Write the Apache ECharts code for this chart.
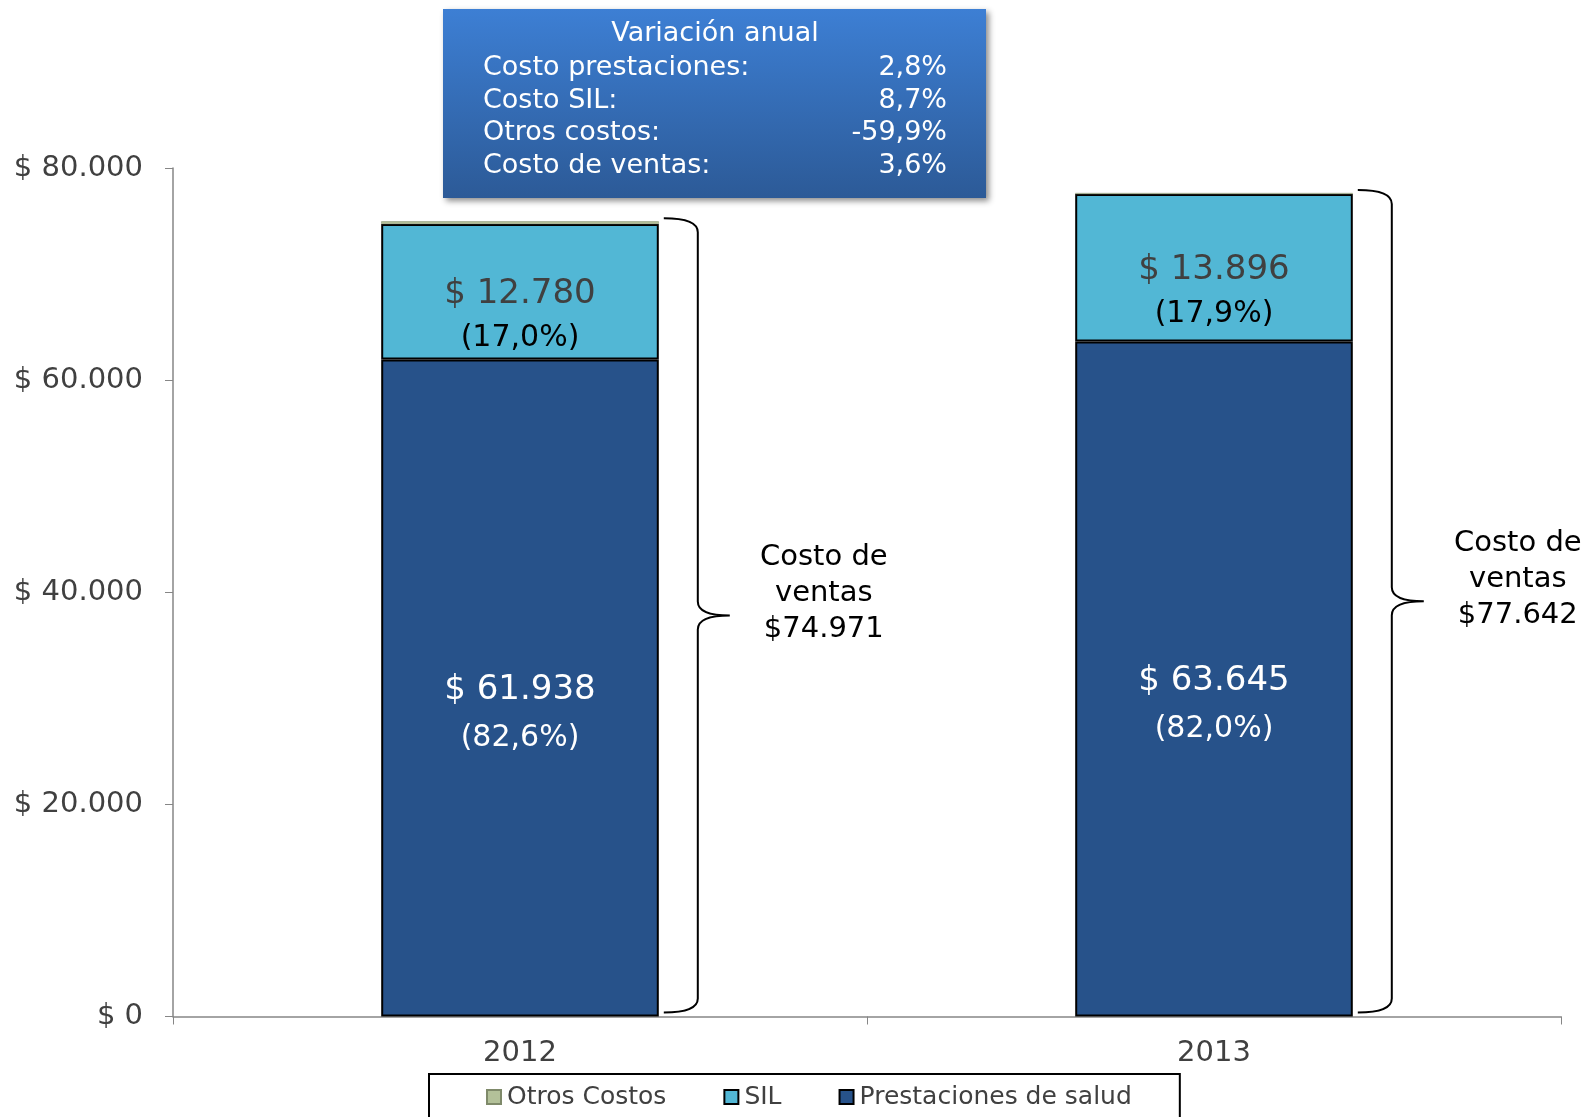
<!DOCTYPE html>
<html>
<head>
<meta charset="utf-8">
<script src="https://cdn.jsdelivr.net/npm/echarts@6/dist/echarts.min.js"></script>
<style>
  html, body { margin: 0; padding: 0; background: #fff; }
  #chart { width: 1584px; height: 1117px; }
</style>
</head>
<body>
<div id="chart"></div>
<script>
// datos
const years = ['2012', '2013']
const prestaciones = [61938, 63645]
const sil = [12780, 13896]
const otros = [253, 101]
const prestacionesPct = ['(82,6%)', '(82,0%)']
const silPct = ['(17,0%)', '(17,9%)']
const yTicks = [0, 20000, 40000, 60000, 80000]
const variacionLabels = ['Costo prestaciones:', 'Costo SIL:', 'Otros costos:', 'Costo de ventas:']
const variacionValues = ['2,8%', '8,7%', '-59,9%', '3,6%']

const FONT = '"DejaVu Sans", Verdana, sans-serif'

function fmt(n){
  return String(n).replace(/\B(?=(\d{3})+(?!\d))/g, '.')
}

let totals = years.map((y, i) => prestaciones[i] + sil[i] + otros[i])

var myChart = echarts.init(document.getElementById('chart'))

// cuadro "Variacion anual"
let boxChildren = [{
  type: 'rect',
  shape: { x: 0, y: 0, width: 543, height: 189 },
  style: {
    fill: new echarts.graphic.LinearGradient(0, 0, 0, 1, [
      { offset: 0, color: '#3D7FD4' },
      { offset: 1, color: '#2C5A97' }
    ]),
    shadowBlur: 6, shadowOffsetX: 3, shadowOffsetY: 3,
    shadowColor: 'rgba(0,0,0,0.45)'
  }
}, {
  type: 'text',
  style: { text: 'Variación anual', x: 272, y: 25, align: 'center', verticalAlign: 'middle',
    fill: '#fff', font: '27px ' + FONT }
}]
variacionLabels.forEach((lab, i) => {
  let y = 59 + i * 32.7
  boxChildren.push({
    type: 'text',
    style: { text: lab, x: 40, y: y, align: 'left', verticalAlign: 'middle', fill: '#fff', font: '27px ' + FONT }
  })
  boxChildren.push({
    type: 'text',
    style: { text: variacionValues[i], x: 504, y: y, align: 'right', verticalAlign: 'middle', fill: '#fff', font: '27px ' + FONT }
  })
})

var option = {
  animation: false,
  textStyle: { fontFamily: FONT },
  grid: { left: 173, right: 23, top: 168, bottom: 100.5 },
  legend: {
    data: ['Otros Costos', 'SIL', 'Prestaciones de salud'],
    left: 429, top: 1074,
    padding: [8, 48, 40, 57],
    borderColor: '#000', borderWidth: 2,
    itemWidth: 14, itemHeight: 14, itemGap: 57,
    icon: 'rect',
    textStyle: { fontSize: 25, color: '#404040', lineHeight: 30, fontFamily: FONT, padding: [0, 0, 0, 1] }
  },
  xAxis: {
    type: 'category',
    data: years,
    axisLine: { lineStyle: { color: '#868686', width: 1.5 } },
    axisTick: { show: true, length: 8, lineStyle: { color: '#868686' } },
    axisLabel: { fontSize: 29, color: '#404040', margin: 22 }
  },
  yAxis: {
    type: 'value',
    min: yTicks[0], max: yTicks[yTicks.length - 1], interval: 20000,
    axisLine: { show: true, lineStyle: { color: '#868686', width: 1.5 } },
    axisTick: { show: true, length: 8, lineStyle: { color: '#868686' } },
    splitLine: { show: false },
    axisLabel: { fontSize: 29, color: '#404040', margin: 30, formatter: v => '$ ' + fmt(v) }
  },
  series: [
    {
      name: 'Prestaciones de salud',
      type: 'bar', stack: 'costo', barWidth: '40%',
      data: prestaciones,
      itemStyle: { color: '#27528A', borderColor: '#000', borderWidth: 2 },
      label: {
        show: true, position: 'inside', offset: [0, 26],
        formatter: p => '{v|$ ' + fmt(p.value) + '}\n{p|' + prestacionesPct[p.dataIndex] + '}',
        rich: {
          v: { fontSize: 34, color: '#fff', lineHeight: 48, fontFamily: FONT },
          p: { fontSize: 30, color: '#fff', lineHeight: 48, fontFamily: FONT }
        }
      }
    },
    {
      name: 'SIL',
      type: 'bar', stack: 'costo',
      data: sil,
      itemStyle: { color: '#52B7D5', borderColor: '#000', borderWidth: 2 },
      label: {
        show: true, position: 'inside', offset: [0, 24],
        formatter: p => '{v|$ ' + fmt(p.value) + '}\n{p|' + silPct[p.dataIndex] + '}',
        rich: {
          v: { fontSize: 34, color: '#404040', lineHeight: 44, fontFamily: FONT },
          p: { fontSize: 30, color: '#000', lineHeight: 44, fontFamily: FONT }
        }
      }
    },
    {
      name: 'Otros Costos',
      type: 'bar', stack: 'costo',
      data: otros,
      itemStyle: { color: '#B3C199', borderColor: '#7F8A6A', borderWidth: 0.5 }
    },
    {
      // llaves "Costo de ventas"
      type: 'custom',
      clip: false, silent: true,
      encode: { x: 0, y: 1 },
      data: totals.map((t, i) => [i, t]),
      renderItem: function(params, api){
        let top = api.coord([api.value(0), api.value(1)])
        let bot = api.coord([api.value(0), 0])
        let half = api.size([1, 0])[0] * 0.2
        let x0 = top[0] + half + 5, x1 = x0 + 34, x2 = x1 + 32
        let yT = top[1] - 3, yB = bot[1] - 4, yM = (yT + yB) / 2, r = 14
        let d = `M${x0},${yT} Q${x1},${yT} ${x1},${yT + r} L${x1},${yM - r} Q${x1},${yM} ${x2},${yM}` +
          ` Q${x1},${yM} ${x1},${yM + r} L${x1},${yB - r} Q${x1},${yB} ${x0},${yB}`
        return {
          type: 'group',
          children: [{
            type: 'path',
            shape: { pathData: d },
            style: { fill: 'none', stroke: '#000', lineWidth: 2 }
          }, {
            type: 'text',
            style: {
              text: 'Costo de\nventas\n$' + fmt(api.value(1)),
              x: x2 + 94, y: yM - 22, align: 'center', verticalAlign: 'middle',
              font: '29px ' + FONT, lineHeight: 36, fill: '#000'
            }
          }]
        }
      }
    }
  ],
  graphic: [{
    type: 'group', left: 443, top: 9,
    children: boxChildren
  }]
};
myChart.setOption(option);
</script>
</body>
</html>
